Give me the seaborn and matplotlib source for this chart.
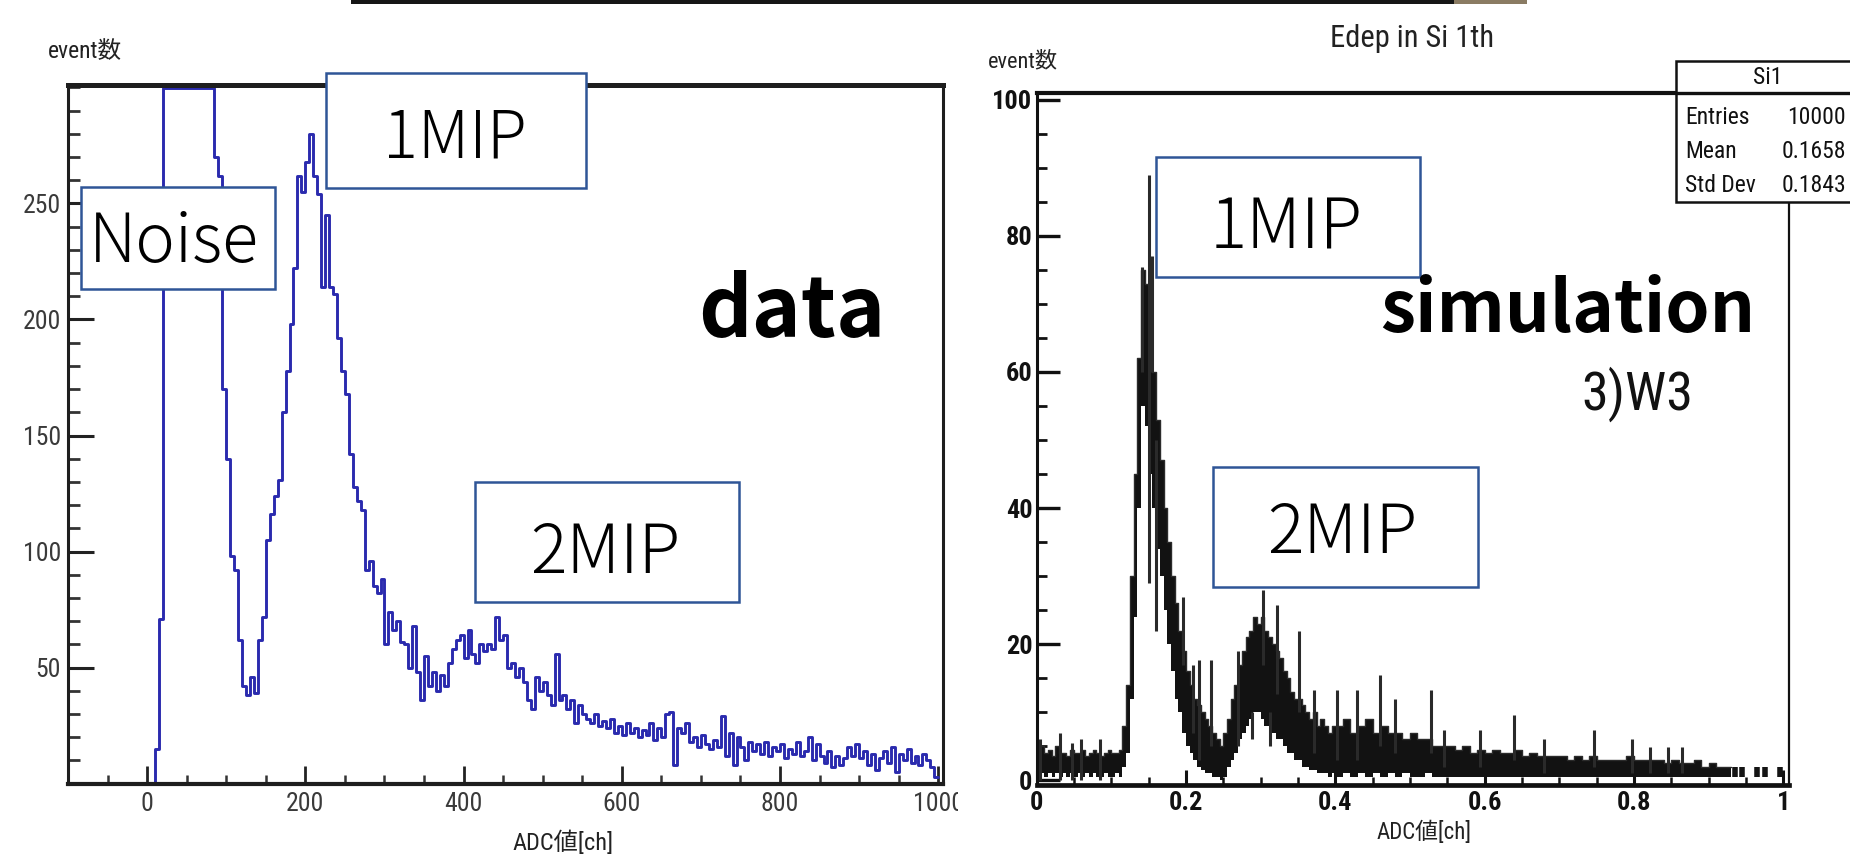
import numpy as np
import pandas as pd
import matplotlib
matplotlib.use("Agg")
import matplotlib.pyplot as plt
import matplotlib.font_manager as fm
from matplotlib.patches import Rectangle
from matplotlib.lines import Line2D
from matplotlib.ticker import FixedLocator, MultipleLocator
import seaborn as sns

# ---------------- data ----------------
# left panel: measured ADC spectrum, 5-ch bins from -100 to 1000
data_bin_width = 5
data_first_edge = -100
data_counts = [
    0, 0, 0, 0, 0, 0, 0, 0, 0, 0, 0, 0, 0, 0, 0, 0, 0, 0, 0, 0,
    0, 0, 15, 71,
    1650, 2300, 2850, 3100, 3000, 2700, 2250, 1800, 1350, 980, 720, 520, 380,
    270, 262, 170, 140, 98, 92, 62, 42, 38, 46, 39, 62, 72, 105, 116, 124, 131,
    160, 178, 198, 222, 262, 255, 268, 280, 262, 254, 214, 245, 214, 211, 192,
    178, 168, 142, 128, 122, 118, 92, 96, 85,
    82, 88, 60, 74, 66, 70, 61, 60, 50, 68,
    48, 36, 55, 42, 48, 40, 47, 42, 52, 58,
    62, 64, 54, 66, 56, 52, 60, 57, 60, 58,
    72, 62, 64, 50, 52, 46, 50, 44, 36, 32,
    46, 40, 44, 38, 34, 56, 36, 38, 32, 36,
    26, 34, 30, 28, 26, 30, 25, 27, 24, 28,
    22, 25, 21, 26, 22, 24, 20, 23, 21, 26,
    19, 24, 20, 30, 31, 8, 24, 22, 26, 18,
    20, 16, 21, 17, 15, 19, 16, 29, 12, 22,
    8, 20, 16, 10, 18, 14, 17, 13, 18, 12,
    16, 14, 17, 11, 15, 13, 18, 12, 14, 20,
    10, 17, 12, 9, 14, 7, 12, 8, 11, 16,
    12, 17, 11, 14, 8, 13, 6, 11, 14, 9,
    16, 5, 13, 10, 15, 9, 12, 8, 13, 10,
    7, 3,
]
data_xticks = [0, 200, 400, 600, 800, 1000]
data_yticks = [50, 100, 150, 200, 250]

# right panel: simulated energy deposit, band of the dense histogram
sim_fine_width = 0.005   # bins 0 .. 0.4
sim_coarse_width = 0.01  # bins 0.4 .. 1.0
sim_lo = [
    0.5, 1, 0.5, 1, 0.5, 1, 0.5, 1, 0.5, 1,
    0.5, 1, 0.5, 1, 0.5, 1, 0.5, 0.5, 1, 0.5,
    0.5, 1, 0.5, 2, 4, 12, 24, 40, 55, 52,
    45, 40, 34, 30, 25, 20, 16, 12, 10, 7,
    5, 4, 3, 2, 1.5, 1, 1, 0.5, 0.5, 0,
    0.5, 2, 3, 4, 6, 7, 8, 9, 10, 10,
    9, 8, 8, 7, 6, 6, 5, 4, 4, 3,
    3, 2, 2, 1.5, 1.5, 1, 1, 1, 0.5, 1,
    # coarse part
    0.5, 1, 0.5, 1, 0.5, 1, 0.5, 1, 0.5, 1,
    0.5, 0.5, 1, 0.5, 0.5, 0.5, 0.5, 0.5, 0.5, 0.5,
    0.5, 0.5, 0.5, 0.5, 0.5, 0.5, 0.5, 0.5, 0.5, 0.5,
    0.5, 0.5, 0.5, 0.5, 0.5, 0.5, 0.5, 0.5, 0.5, 0.5,
    0.5, 0.5, 0.5, 0.5, 0.5, 0.5, 0.5, 0.5, 0.5, 0.5,
    0.5, 0.5, 0.5, 0.5, 0.5, 0, 0.5, 0.5, 0, 0.5,
]
sim_hi = [
    4, 5, 4, 4.5, 3.5, 5, 4, 4, 3.5, 4.5,
    4, 4, 4.5, 3.5, 4, 4.5, 4, 3.5, 4, 4.5,
    4, 4, 4.5, 8, 14, 30, 45, 62, 75, 73,
    68, 60, 53, 47, 40, 35, 30, 26, 22, 19,
    16, 14, 12, 11, 10, 9, 8, 7, 6, 5,
    7, 9, 12, 14, 17, 19, 21, 22, 24, 23,
    24, 22, 21, 20, 19, 18, 16, 15, 13, 12,
    12, 11, 10, 9, 10, 8, 9, 8, 7, 8,
    # coarse part
    8, 9, 7, 8, 9, 7, 8, 7, 7, 6,
    7, 6, 6, 5, 5, 5, 4.5, 5, 4, 4.5,
    4, 4.5, 4, 4, 4.5, 3.5, 4, 3.5, 3.5, 3.5,
    3.5, 3, 3.5, 3, 3.5, 3, 3, 3, 3, 3.5,
    3, 3, 3, 3, 2.5, 3, 2.5, 2.5, 3, 2,
    2.5, 2, 2, 2, 2, 0, 2, 2, 0, 2,
]
# isolated error bars sticking out of the band
sim_spike_x = [0.005, 0.031, 0.047, 0.060, 0.085, 0.141, 0.150, 0.154, 0.160,
               0.196, 0.210, 0.218, 0.233, 0.270, 0.288, 0.303, 0.313, 0.322,
               0.351, 0.371, 0.402, 0.429, 0.460, 0.480, 0.528, 0.545, 0.594,
               0.639, 0.679, 0.746, 0.797, 0.822, 0.846, 0.864]
sim_spike_lo = [0, 0, 0, 0, 0, 60, 29, 60, 22,
                17, 7, 3, 5, 5, 6, 17, 5, 12.7,
                10, 4, 3, 3, 5, 4, 4, 2, 2,
                3, 1, 2, 1, 1, 1, 1]
sim_spike_hi = [6, 7, 5.5, 6, 6, 75.5, 89, 77, 50,
                27, 17, 17.6, 17.6, 19, 10, 28, 10, 25.8,
                22, 13.2, 13.2, 13.2, 15.4, 12, 13.2, 7.4, 7.4,
                9.6, 6.1, 7.4, 6.1, 4.9, 4.9, 4.9]
sim_xticks = [0, 0.2, 0.4, 0.6, 0.8, 1.0]
sim_xticklabels = ["0", "0.2", "0.4", "0.6", "0.8", "1"]
sim_yticks = [0, 20, 40, 60, 80, 100]

stats_rows = ["Entries", "Mean", "Std Dev"]
stats_vals = ["10000", "0.1658", "0.1843"]

# ---------------- fonts ----------------
sns.set_theme(style="white")
entries = fm.fontManager.ttflist
names = {f.name for f in entries}
ROOTF = "Liberation Sans"
for cand in ["Liberation Sans Narrow", "Roboto Condensed", "Arial Narrow", "Nimbus Sans Narrow"]:
    if cand in names:
        ROOTF = cand
        break
CONDENSED = ROOTF != "Liberation Sans"
JP = "Noto Sans CJK JP"
plt.rcParams["font.family"] = [ROOTF, JP, "DejaVu Sans"]
k = 1.0 if CONDENSED else 0.88   # keep text widths close to the squeezed original

W, H = 1850, 859
fig = plt.figure(figsize=(W / 100, H / 100), dpi=100)
fig.patch.set_facecolor("white")


def fx(px):
    return px / W


def fy(py):
    return 1 - py / H


# ---------------- left panel ----------------
ax1 = fig.add_axes([fx(68), fy(783.7), (943 - 68) / W, (783.7 - 85) / H])
edges = data_first_edge + data_bin_width * np.arange(len(data_counts) + 1)
yline = np.append(np.array(data_counts, float), data_counts[-1])
YTOP1 = 301
df1 = pd.DataFrame({"ch": edges, "n": np.minimum(yline, YTOP1 - 1.5)})
sns.lineplot(data=df1, x="ch", y="n", ax=ax1, estimator=None, sort=False,
             drawstyle="steps-post", color="#2a2aae", lw=2.1)
ax1.set_xlim(-100, 1006)
ax1.set_ylim(0, YTOP1)
ax1.set_xlabel("")
ax1.set_ylabel("")
ax1.xaxis.set_major_locator(FixedLocator(data_xticks))
ax1.xaxis.set_minor_locator(MultipleLocator(50))
ax1.yaxis.set_major_locator(FixedLocator(data_yticks))
ax1.yaxis.set_minor_locator(MultipleLocator(10))
ax1.tick_params(axis="y", which="major", direction="in", length=19, width=2.2,
                color="#222222", labelsize=18.5 * k, labelcolor="#3a3a3a", pad=5, left=True)
ax1.tick_params(axis="y", which="minor", direction="in", length=8.5, width=2.0,
                color="#333333", left=True)
ax1.tick_params(axis="x", which="major", direction="in", length=13, width=2.0,
                color="#222222", labelsize=18.5 * k, labelcolor="#3a3a3a", pad=6, bottom=True)
ax1.tick_params(axis="x", which="minor", direction="in", length=6.5, width=1.8,
                color="#333333", bottom=True)
for side, lw in [("top", 3.6), ("bottom", 3.0), ("left", 2.2), ("right", 2.2)]:
    ax1.spines[side].set_linewidth(lw)
    ax1.spines[side].set_color("#1e1e1e")

# ---------------- right panel ----------------
ax2 = fig.add_axes([fx(1036.6), fy(785), (1788.5 - 1036.6) / W, (785 - 93) / H])
sim_edges = np.concatenate([np.round(np.arange(0, 80) * sim_fine_width, 4),
                            np.round(0.4 + np.arange(0, 61) * sim_coarse_width, 4)])
lo_arr = np.array(sim_lo, float)
hi_arr = np.array(sim_hi, float)
centers = 0.5 * (sim_edges[:-1] + sim_edges[1:])
dense = sim_edges[:-1] < 0.925         # solid band where the original is dense
nd = int(dense.sum())
xe = sim_edges[:nd + 1]
lo = np.append(lo_arr[:nd], lo_arr[nd - 1])
hi = np.append(hi_arr[:nd], hi_arr[nd - 1])
ax2.fill_between(xe, lo, hi, step="post", color="#121212", lw=0, zorder=2)
df2 = pd.DataFrame({"x": xe, "hi": hi})
sns.lineplot(data=df2, x="x", y="hi", ax=ax2, estimator=None, sort=False,
             drawstyle="steps-post", color="#2b2b2b", lw=1.0, zorder=2)
# sparse tail: separate bars
ax2.vlines(centers[nd:], lo_arr[nd:], hi_arr[nd:], colors="#141414", lw=4.0, zorder=2)
ax2.vlines(sim_spike_x, sim_spike_lo, sim_spike_hi, colors="#2a2a2a", lw=2.2, zorder=3)
ax2.set_xlim(0, 1.007)
ax2.set_ylim(-0.7, 101)
ax2.set_xlabel("")
ax2.set_ylabel("")
ax2.xaxis.set_major_locator(FixedLocator(sim_xticks))
ax2.set_xticklabels(sim_xticklabels)
ax2.xaxis.set_minor_locator(MultipleLocator(0.05))
ax2.yaxis.set_major_locator(FixedLocator(sim_yticks))
ax2.yaxis.set_minor_locator(MultipleLocator(5))
ax2.tick_params(axis="y", which="major", direction="in", length=16.5, width=2.4,
                color="#111111", labelsize=19 * k, pad=3, left=True)
ax2.tick_params(axis="y", which="minor", direction="in", length=7.5, width=2.0,
                color="#111111", left=True)
ax2.tick_params(axis="x", which="major", direction="in", length=11, width=2.2,
                color="#111111", labelsize=19 * k, pad=4, bottom=True)
ax2.tick_params(axis="x", which="minor", direction="in", length=6, width=1.8,
                color="#111111", bottom=True)
for lab in ax2.get_xticklabels() + ax2.get_yticklabels():
    lab.set_fontweight("bold")
    lab.set_color("#111111")
for side, lw in [("top", 3.0), ("bottom", 3.4), ("left", 2.2), ("right", 1.6)]:
    ax2.spines[side].set_linewidth(lw)
    ax2.spines[side].set_color("#111111")

# ---------------- figure-level texts ----------------
fig.text(fx(85), fy(52), "event数", ha="center", va="center", fontsize=17 * k, color="#222222")
fig.text(fx(563), fy(843), "ADC値[ch]", ha="center", va="center", fontsize=17.5 * k, color="#222222")
fig.text(fx(1023), fy(62), "event数", ha="center", va="center", fontsize=16 * k, color="#222222")
fig.text(fx(1424), fy(832), "ADC値[ch]", ha="center", va="center", fontsize=16.5 * k, color="#222222")
fig.text(fx(1412), fy(47), "Edep in Si 1th", ha="center", va="baseline", fontsize=22 * k,
         color="#222222")

# white cover where the right screenshot starts (cuts the "1000" label)
fig.add_artist(Rectangle((fx(958), fy(830)), 30 / W, 45 / H, transform=fig.transFigure,
                         fc="white", ec="none", zorder=4))

# dark photo strip at the very top
fig.add_artist(Rectangle((fx(351), fy(4)), (1454 - 351) / W, 4 / H, transform=fig.transFigure,
                         fc="#161616", ec="none", zorder=4))
fig.add_artist(Rectangle((fx(1454), fy(4)), (1527 - 1454) / W, 4 / H, transform=fig.transFigure,
                         fc="#8a7b63", ec="none", zorder=4))

# stats box (runs off the right edge like the original)
fig.add_artist(Rectangle((fx(1676), fy(202)), (1900 - 1676) / W, (202 - 61) / H,
                         transform=fig.transFigure, fc="white", ec="#111111", lw=1.8, zorder=8))
fig.add_artist(Line2D([fx(1676), fx(1900)], [fy(93), fy(93)], transform=fig.transFigure,
                      color="#111111", lw=2.4, zorder=9))
fig.text(fx(1768), fy(78), "Si1", ha="center", va="center", fontsize=17 * k, color="#111111",
         zorder=9)
for row, (lab, val) in enumerate(zip(stats_rows, stats_vals)):
    yy = 117 + 34 * row
    fig.text(fx(1685), fy(yy), lab, ha="left", va="center", fontsize=17 * k, color="#111111",
             zorder=9)
    fig.text(fx(1846), fy(yy), val, ha="right", va="center", fontsize=17 * k, color="#111111",
             zorder=9)

# annotation boxes
BOXC = "#2f5597"


def ann_box(x0, y0, x1, y1):
    fig.add_artist(Rectangle((fx(x0), fy(y1)), (x1 - x0) / W, (y1 - y0) / H,
                             transform=fig.transFigure, fc="white", ec=BOXC, lw=1.8, zorder=6))


def ann_text(cx, base, s, size, weight="light"):
    fig.text(fx(cx), fy(base), s, ha="center", va="baseline", fontsize=size,
             family=[JP, "DejaVu Sans"], fontweight=weight, color="black", zorder=7)


ann_box(81, 187, 275, 289)
ann_text(174, 262, "Noise", 48)
ann_box(326, 73, 586, 188)
ann_text(455, 158, "1MIP", 47)
ann_box(475, 482, 739, 602)
ann_text(605, 573, "2MIP", 49)
ann_box(1156, 157, 1420, 277)
ann_text(1286, 248, "1MIP", 50)
ann_box(1213, 467, 1478, 587)
ann_text(1342, 553, "2MIP", 49)

ann_text(792, 337, "data", 60, weight="bold")
ann_text(1568, 332, "simulation", 51, weight="bold")
fig.text(fx(1637), fy(410), "3)W3", ha="center", va="baseline",
         fontsize=39 * (1.0 if CONDENSED else 0.85), color="#111111", zorder=7)

fig.savefig("out.png", dpi=100, facecolor="white")
